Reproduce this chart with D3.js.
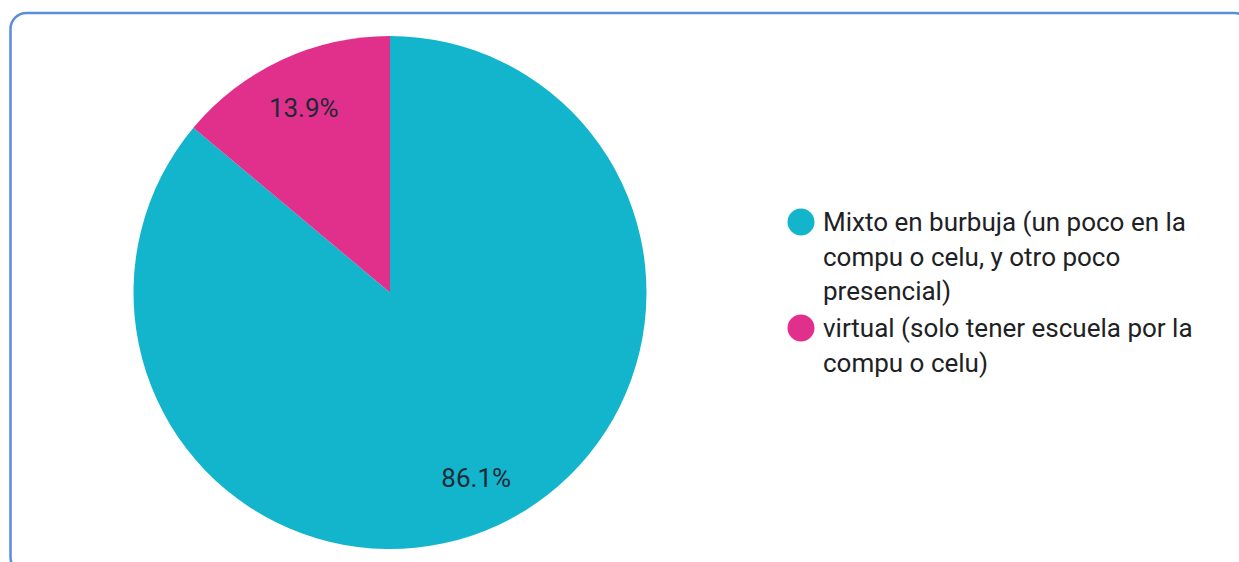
<!DOCTYPE html>
<html>
<head>
<meta charset="utf-8">
<script src="https://cdn.jsdelivr.net/npm/d3@7"></script>
<style>
  html, body { margin: 0; padding: 0; background: #ffffff; }
  svg { display: block; }
</style>
</head>
<body>
<svg id="chart" width="1239" height="562"></svg>
<script>
// Survey answers and their shares (percent)
const categories = [
  "Mixto en burbuja (un poco en la compu o celu, y otro poco presencial)",
  "virtual (solo tener escuela por la compu o celu)"
];
const values = [86.1, 13.9];
const legendLines = [
  ["Mixto en burbuja (un poco en la", "compu o celu, y otro poco", "presencial)"],
  ["virtual (solo tener escuela por la", "compu o celu)"]
];
const colors = ["#12b5cb", "#e0308b"];

const svg = d3.select("#chart");

// Card frame
svg.append("rect")
  .attr("x", 10.5).attr("y", 13)
  .attr("width", 1240).attr("height", 560)
  .attr("rx", 16).attr("ry", 16)
  .attr("fill", "#ffffff")
  .attr("stroke", "#5a8fd8")
  .attr("stroke-width", 2.5);

// Pie
const cx = 390, cy = 292.5, radius = 256.5;
const data = categories.map((c, i) => ({ name: c, value: values[i], color: colors[i] }));
const pie = d3.pie().sort(null).value(d => d.value);
const arc = d3.arc().innerRadius(0).outerRadius(radius);
const labelArc = d3.arc().innerRadius(radius * 0.795).outerRadius(radius * 0.795);

const g = svg.append("g").attr("transform", `translate(${cx},${cy})`);
const arcs = pie(data);

g.selectAll("path.slice")
  .data(arcs)
  .join("path")
  .attr("class", "slice")
  .attr("d", arc)
  .attr("fill", d => d.data.color);

g.selectAll("text.pct")
  .data(arcs)
  .join("text")
  .attr("class", "pct")
  .attr("transform", d => `translate(${labelArc.centroid(d)})`)
  .attr("text-anchor", "middle")
  .attr("dy", "0.36em")
  .attr("font-family", "Roboto, sans-serif")
  .attr("font-size", 26)
  .attr("fill", "#1d2a36")
  .text(d => d.data.value.toFixed(1) + "%");

// Legend
const legend = svg.append("g");
const legendX = 801, textX = 823;
const itemTops = [222, 328];
const lineH = 34.5;

legendLines.forEach((lines, i) => {
  legend.append("circle")
    .attr("cx", legendX)
    .attr("cy", itemTops[i])
    .attr("r", 13.5)
    .attr("fill", colors[i]);
  const t = legend.append("text")
    .attr("x", textX)
    .attr("y", itemTops[i])
    .attr("font-family", "Roboto, sans-serif")
    .attr("font-size", 26)
    .attr("fill", "#202124");
  lines.forEach((ln, j) => {
    t.append("tspan")
      .attr("x", textX)
      .attr("y", itemTops[i] + j * lineH)
      .attr("dy", "0.36em")
      .text(ln);
  });
});
</script>
</body>
</html>
